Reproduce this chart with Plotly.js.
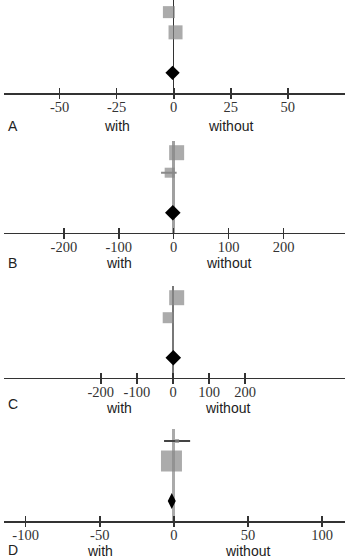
<!DOCTYPE html>
<html><head><meta charset="utf-8">
<script src="https://cdn.plot.ly/plotly-3.0.1.min.js"></script>
<style>html,body{margin:0;padding:0;background:#fff}#chart{width:346px;height:559px}</style>
</head><body><div id="chart"></div>
<script>
// ---- data ----
const panelLabels = ['A', 'B', 'C', 'D'];
const sideLabels = ['with', 'without'];

const aTicks = [-50, -25, 0, 25, 50];
const bTicks = [-200, -100, 0, 100, 200];
const cTicks = [-200, -100, 0, 100, 200];
const dTicks = [-100, -50, 0, 50, 100];

// study rows (1 = pooled row, higher = upper study)
const aRows = [4, 3];
const aEst = [-2.1, 0.8];
const aLo = [-2.1, 0.8];
const aHi = [-2.1, 0.8];
const aPooled = [-0.5];

const bRows = [4, 3];
const bEst = [5.4, -7.3];
const bLo = [5.4, -23];
const bHi = [5.4, 5.4];
const bPooled = [-1.6];

const cRows = [4, 3];
const cEst = [10.2, -13.3];
const cLo = [10.2, -13.3];
const cHi = [10.2, -13.3];
const cPooled = [0.8];

const dRows = [4, 3];
const dEst = [2.2, -1.6];
const dLo = [-6.6, -1.6];
const dHi = [11, -1.6];
const dPooled = [-1.4];

const pooledRow = [1];

// ---- geometry helpers ----
const W = 346, H = 559, ML = 4, MR = 1;
const px2x = p => (p - ML) / (W - ML - MR);
const px2y = p => 1 - p / H;

const panels = [
  {rows: aRows, est: aEst, lo: aLo, hi: aHi, pooled: aPooled, ticks: aTicks,
   range: [-74.4, 75.1], top: 0, axis: 93, sizes: [12, 14], dSym: 'diamond', dSize: 11,
   zc: '#333', zw: 1.5, ec: '#8a8a8a', side: 25, labY: 126, sideY: 126},
  {rows: bRows, est: bEst, lo: bLo, hi: bHi, pooled: bPooled, ticks: bTicks,
   range: [-309, 312], top: 140.7, axis: 232.7, sizes: [15, 10], dSym: 'diamond', dSize: 12,
   zc: '#a0a0a0', zw: 2.5, ec: '#8a8a8a', side: 100, labY: 263, sideY: 263},
  {rows: cRows, est: cEst, lo: cLo, hi: cHi, pooled: cPooled, ticks: cTicks,
   range: [-468.4, 476.7], top: 285.7, axis: 377.7, sizes: [15, 11], dSym: 'diamond', dSize: 12,
   zc: '#777', zw: 2, ec: '#8a8a8a', side: 150, labY: 404, sideY: 408},
  {rows: dRows, est: dEst, lo: dLo, hi: dHi, pooled: dPooled, ticks: dTicks,
   range: [-114.6, 115.5], top: 429, axis: 521, sizes: [4, 21], dSym: 'diamond-tall', dSize: 11.5,
   zc: '#aaaaaa', zw: 3, ec: '#444', side: 50, labY: 550, sideY: 550.5}
];

const traces = [];
const layout = {
  width: W, height: H,
  margin: {l: ML, r: MR, t: 0, b: 0},
  paper_bgcolor: '#fff', plot_bgcolor: 'rgba(0,0,0,0)',
  showlegend: false,
  annotations: []
};

panels.forEach((p, i) => {
  const n = i + 1;
  const xs = n === 1 ? 'x' : 'x' + n;
  const ys = n === 1 ? 'y' : 'y' + n;
  const xk = n === 1 ? 'xaxis' : 'xaxis' + n;
  const yk = n === 1 ? 'yaxis' : 'yaxis' + n;
  const ovN = n + 4;

  traces.push({
    type: 'scatter', mode: 'markers', xaxis: xs, yaxis: ys,
    x: p.est, y: p.rows, cliponaxis: false, hoverinfo: 'skip',
    marker: {symbol: 'square', size: p.sizes, color: '#888888', line: {width: 0}},
    error_x: {type: 'data', symmetric: false,
      array: p.hi.map((h, k) => h - p.est[k]),
      arrayminus: p.lo.map((l, k) => p.est[k] - l),
      color: p.ec, thickness: 2, width: 0}
  });
  traces.push({
    type: 'scatter', mode: 'markers', xaxis: xs, yaxis: ys,
    x: p.pooled, y: pooledRow, cliponaxis: false, hoverinfo: 'skip',
    marker: {symbol: p.dSym, size: p.dSize, color: '#000', line: {width: 0}}
  });
  // invisible trace on overlay axis (for outside ticks)
  traces.push({
    type: 'scatter', mode: 'markers', xaxis: 'x' + ovN, yaxis: ys,
    x: [p.ticks[0]], y: [-10], marker: {size: 1, opacity: 0}, hoverinfo: 'skip'
  });

  layout[xk] = {
    domain: [0, 1], anchor: ys, range: p.range, fixedrange: true,
    tickmode: 'array', tickvals: p.ticks, ticktext: p.ticks.map(String),
    ticks: 'inside', ticklen: 5, tickwidth: 1.6, tickcolor: '#333',
    showline: true, linecolor: '#333', linewidth: 1.6,
    showgrid: false, zeroline: true, zerolinecolor: p.zc, zerolinewidth: p.zw,
    tickfont: {family: 'Liberation Serif', size: 14.5, color: '#333'}
  };
  layout['xaxis' + ovN] = {
    overlaying: xs, anchor: ys, range: p.range, fixedrange: true,
    tickmode: 'array', tickvals: p.ticks,
    ticks: 'outside', ticklen: 5, tickwidth: 1.6, tickcolor: '#333',
    showticklabels: false, showline: false, showgrid: false, zeroline: false
  };
  layout[yk] = {
    domain: [px2y(p.axis), px2y(p.top)], range: [0, 4.6],
    visible: false, fixedrange: true, anchor: xs
  };

  const f = {family: 'Liberation Sans', size: 14, color: '#222'};
  layout.annotations.push({
    text: panelLabels[i], xref: 'paper', yref: 'paper',
    x: px2x(12.5), y: px2y(p.labY), xanchor: 'center', yanchor: 'middle',
    showarrow: false, font: f, borderpad: 0
  });
  layout.annotations.push({
    text: sideLabels[0], xref: xs, yref: 'paper',
    x: -p.side, y: px2y(p.sideY), xanchor: 'center', yanchor: 'middle',
    showarrow: false, font: f, borderpad: 0
  });
  layout.annotations.push({
    text: sideLabels[1], xref: xs, yref: 'paper',
    x: p.side, y: px2y(p.sideY), xanchor: 'center', yanchor: 'middle',
    showarrow: false, font: f, borderpad: 0
  });
});

Plotly.newPlot('chart', traces, layout, {staticPlot: true, displayModeBar: false});
</script>
</body></html>
